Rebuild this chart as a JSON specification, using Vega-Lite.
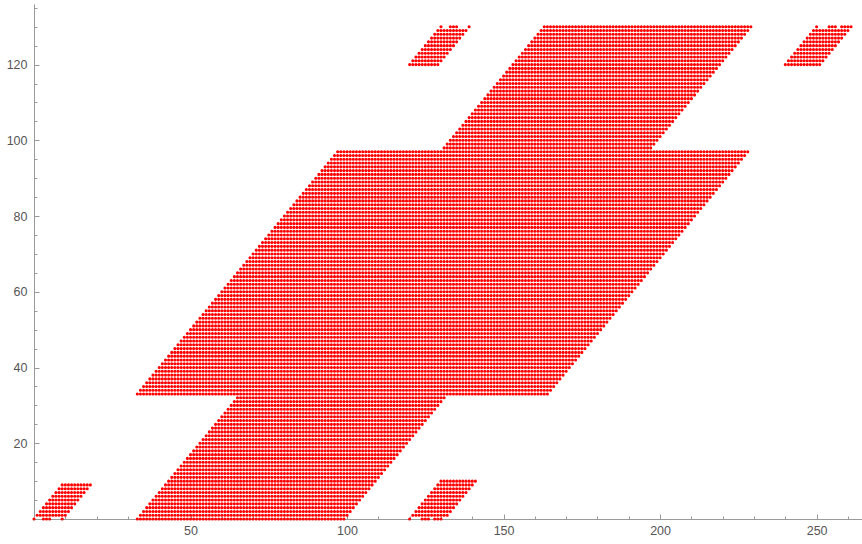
{
"$schema": "https://vega.github.io/schema/vega-lite/v6.json",
"width": 828, "height": 515,
"autosize": {"type": "none"},
"padding": {"left": 34, "top": 4, "right": 0, "bottom": 25},
"background": "white",
"config": {"view": {"stroke": null}, "axis": {"grid": false, "title": null}},
"data": {"values": [
{"y":0,"a":0,"b":0},{"y":0,"a":3,"b":5},{"y":0,"a":9,"b":9},{"y":0,"a":33,"b":99},{"y":0,"a":120,"b":120},{"y":0,"a":124,"b":126},{"y":0,"a":128,"b":130},
{"y":1,"a":1,"b":10},{"y":1,"a":34,"b":100},{"y":1,"a":121,"b":132},
{"y":2,"a":2,"b":11},{"y":2,"a":35,"b":101},{"y":2,"a":122,"b":133},
{"y":3,"a":3,"b":12},{"y":3,"a":36,"b":102},{"y":3,"a":123,"b":134},
{"y":4,"a":4,"b":13},{"y":4,"a":37,"b":103},{"y":4,"a":124,"b":135},
{"y":5,"a":5,"b":14},{"y":5,"a":38,"b":104},{"y":5,"a":125,"b":136},
{"y":6,"a":6,"b":15},{"y":6,"a":39,"b":105},{"y":6,"a":126,"b":137},
{"y":7,"a":7,"b":16},{"y":7,"a":40,"b":106},{"y":7,"a":127,"b":138},
{"y":8,"a":8,"b":17},{"y":8,"a":41,"b":107},{"y":8,"a":128,"b":139},
{"y":9,"a":9,"b":18},{"y":9,"a":42,"b":108},{"y":9,"a":129,"b":140},
{"y":10,"a":43,"b":109},{"y":10,"a":130,"b":141},
{"y":11,"a":44,"b":110},{"y":12,"a":45,"b":111},{"y":13,"a":46,"b":112},{"y":14,"a":47,"b":113},
{"y":15,"a":48,"b":114},{"y":16,"a":49,"b":115},{"y":17,"a":50,"b":116},{"y":18,"a":51,"b":117},
{"y":19,"a":52,"b":118},{"y":20,"a":53,"b":119},{"y":21,"a":54,"b":120},{"y":22,"a":55,"b":121},
{"y":23,"a":56,"b":122},{"y":24,"a":57,"b":123},{"y":25,"a":58,"b":124},{"y":26,"a":59,"b":125},
{"y":27,"a":60,"b":126},{"y":28,"a":61,"b":127},{"y":29,"a":62,"b":128},{"y":30,"a":63,"b":129},
{"y":31,"a":64,"b":130},{"y":32,"a":65,"b":131},
{"y":33,"a":33,"b":164},{"y":34,"a":34,"b":165},{"y":35,"a":35,"b":166},{"y":36,"a":36,"b":167},
{"y":37,"a":37,"b":168},{"y":38,"a":38,"b":169},{"y":39,"a":39,"b":170},{"y":40,"a":40,"b":171},
{"y":41,"a":41,"b":172},{"y":42,"a":42,"b":173},{"y":43,"a":43,"b":174},{"y":44,"a":44,"b":175},
{"y":45,"a":45,"b":176},{"y":46,"a":46,"b":177},{"y":47,"a":47,"b":178},{"y":48,"a":48,"b":179},
{"y":49,"a":49,"b":180},{"y":50,"a":50,"b":181},{"y":51,"a":51,"b":182},{"y":52,"a":52,"b":183},
{"y":53,"a":53,"b":184},{"y":54,"a":54,"b":185},{"y":55,"a":55,"b":186},{"y":56,"a":56,"b":187},
{"y":57,"a":57,"b":188},{"y":58,"a":58,"b":189},{"y":59,"a":59,"b":190},{"y":60,"a":60,"b":191},
{"y":61,"a":61,"b":192},{"y":62,"a":62,"b":193},{"y":63,"a":63,"b":194},{"y":64,"a":64,"b":195},
{"y":65,"a":65,"b":196},{"y":66,"a":66,"b":197},{"y":67,"a":67,"b":198},{"y":68,"a":68,"b":199},
{"y":69,"a":69,"b":200},{"y":70,"a":70,"b":201},{"y":71,"a":71,"b":202},{"y":72,"a":72,"b":203},
{"y":73,"a":73,"b":204},{"y":74,"a":74,"b":205},{"y":75,"a":75,"b":206},{"y":76,"a":76,"b":207},
{"y":77,"a":77,"b":208},{"y":78,"a":78,"b":209},{"y":79,"a":79,"b":210},{"y":80,"a":80,"b":211},
{"y":81,"a":81,"b":212},{"y":82,"a":82,"b":213},{"y":83,"a":83,"b":214},{"y":84,"a":84,"b":215},
{"y":85,"a":85,"b":216},{"y":86,"a":86,"b":217},{"y":87,"a":87,"b":218},{"y":88,"a":88,"b":219},
{"y":89,"a":89,"b":220},{"y":90,"a":90,"b":221},{"y":91,"a":91,"b":222},{"y":92,"a":92,"b":223},
{"y":93,"a":93,"b":224},{"y":94,"a":94,"b":225},{"y":95,"a":95,"b":226},{"y":96,"a":96,"b":227},
{"y":97,"a":97,"b":228},
{"y":98,"a":131,"b":197},{"y":99,"a":132,"b":198},{"y":100,"a":133,"b":199},{"y":101,"a":134,"b":200},
{"y":102,"a":135,"b":201},{"y":103,"a":136,"b":202},{"y":104,"a":137,"b":203},{"y":105,"a":138,"b":204},
{"y":106,"a":139,"b":205},{"y":107,"a":140,"b":206},{"y":108,"a":141,"b":207},{"y":109,"a":142,"b":208},
{"y":110,"a":143,"b":209},{"y":111,"a":144,"b":210},{"y":112,"a":145,"b":211},{"y":113,"a":146,"b":212},
{"y":114,"a":147,"b":213},{"y":115,"a":148,"b":214},{"y":116,"a":149,"b":215},{"y":117,"a":150,"b":216},
{"y":118,"a":151,"b":217},{"y":119,"a":152,"b":218},
{"y":120,"a":120,"b":129},{"y":120,"a":153,"b":219},{"y":120,"a":240,"b":251},
{"y":121,"a":121,"b":130},{"y":121,"a":154,"b":220},{"y":121,"a":241,"b":252},
{"y":122,"a":122,"b":131},{"y":122,"a":155,"b":221},{"y":122,"a":242,"b":253},
{"y":123,"a":123,"b":132},{"y":123,"a":156,"b":222},{"y":123,"a":243,"b":254},
{"y":124,"a":124,"b":133},{"y":124,"a":157,"b":223},{"y":124,"a":244,"b":255},
{"y":125,"a":125,"b":134},{"y":125,"a":158,"b":224},{"y":125,"a":245,"b":256},
{"y":126,"a":126,"b":135},{"y":126,"a":159,"b":225},{"y":126,"a":246,"b":257},
{"y":127,"a":127,"b":136},{"y":127,"a":160,"b":226},{"y":127,"a":247,"b":258},
{"y":128,"a":128,"b":137},{"y":128,"a":161,"b":227},{"y":128,"a":248,"b":259},
{"y":129,"a":129,"b":138},{"y":129,"a":162,"b":228},{"y":129,"a":249,"b":260},
{"y":130,"a":130,"b":130},{"y":130,"a":133,"b":135},{"y":130,"a":139,"b":139},{"y":130,"a":163,"b":229},{"y":130,"a":250,"b":250},{"y":130,"a":254,"b":256},{"y":130,"a":258,"b":261}
]},
"layer": [
{
"mark": {"type": "rule", "color": "#ff0000", "strokeWidth": 3.1, "strokeCap": "round", "strokeDash": [0.01, 3.12043], "strokeDashOffset": 2.13043, "xOffset": -1, "x2Offset": 1},
"encoding": {
"x": {"field": "a", "type": "quantitative", "scale": {"domain": [0, 264.5], "nice": false, "zero": false},
"axis": {"orient": "bottom", "values": [50, 100, 150, 200, 250], "ticks": false, "labelPadding": 5, "domainColor": "#9a9a9a", "domainWidth": 1, "labelColor": "#555555", "labelFont": "Liberation Sans", "labelFontSize": 12.5}},
"x2": {"field": "b"},
"y": {"field": "y", "type": "quantitative", "scale": {"domain": [0, 136], "nice": false, "zero": false},
"axis": {"orient": "left", "values": [20, 40, 60, 80, 100, 120], "ticks": false, "labelPadding": 7, "domainColor": "#9a9a9a", "domainWidth": 1, "labelColor": "#555555", "labelFont": "Liberation Sans", "labelFontSize": 12.5}}
}
},
{
"mark": {"type": "rule", "opacity": 0},
"encoding": {
"x": {"field": "a", "type": "quantitative", "axis": {"orient": "bottom", "values": [50, 100, 150, 200, 250], "labels": false, "domain": false, "tickSize": -5, "tickColor": "#9a9a9a"}},
"x2": {"field": "b"},
"y": {"field": "y", "type": "quantitative", "axis": {"orient": "left", "values": [20, 40, 60, 80, 100, 120], "labels": false, "domain": false, "tickSize": -5, "tickColor": "#9a9a9a"}}
}
},
{
"mark": {"type": "rule", "opacity": 0},
"encoding": {
"x": {"field": "a", "type": "quantitative", "axis": {"orient": "bottom", "values": [10, 20, 30, 40, 60, 70, 80, 90, 110, 120, 130, 140, 160, 170, 180, 190, 210, 220, 230, 240, 260], "labels": false, "domain": false, "tickSize": -3, "tickColor": "#9a9a9a"}},
"x2": {"field": "b"},
"y": {"field": "y", "type": "quantitative", "axis": {"orient": "left", "values": [5, 10, 15, 25, 30, 35, 45, 50, 55, 65, 70, 75, 85, 90, 95, 105, 110, 115, 125, 130, 135], "labels": false, "domain": false, "tickSize": -3, "tickColor": "#9a9a9a"}}
}
}
],
"resolve": {"axis": {"x": "independent", "y": "independent"}}
}
